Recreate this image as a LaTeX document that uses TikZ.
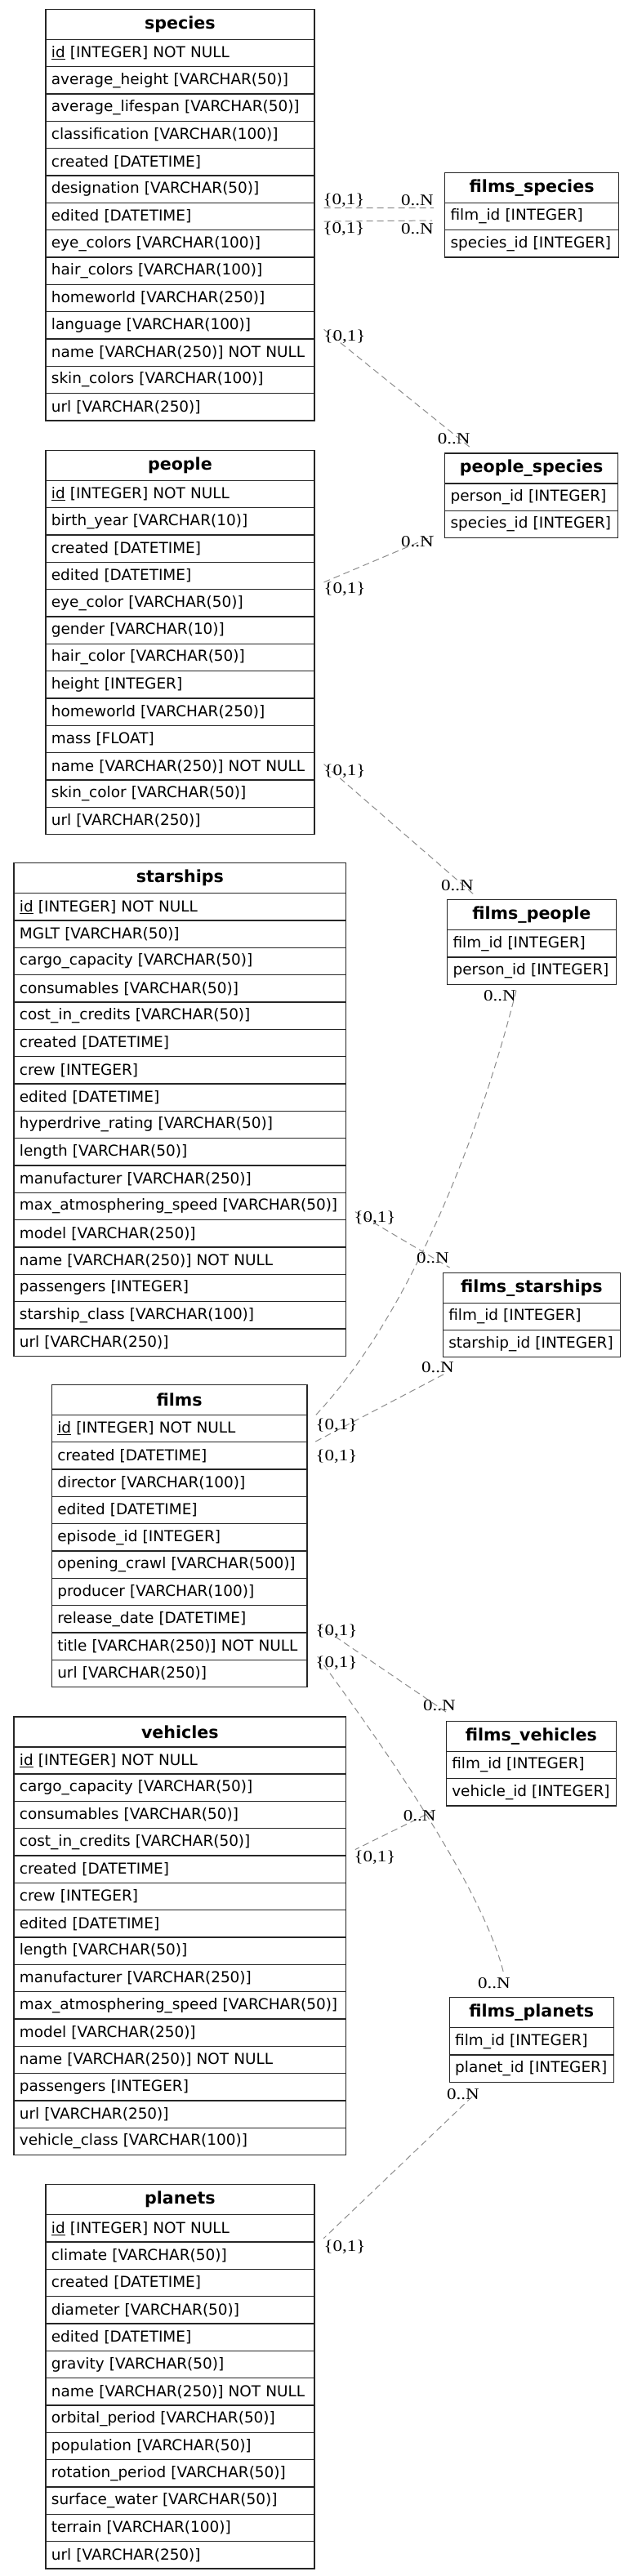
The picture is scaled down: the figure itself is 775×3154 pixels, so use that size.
\documentclass[tikz,border=0pt]{standalone}
\usepackage{fontspec}
\setmainfont{DejaVu Sans}
\newfontfamily\cardfont{Liberation Serif}
\usepackage{tikz}
\tikzset{
    % ER table styles
    thead/.style={draw=black!85, line width=1.2pt, inner sep=0pt, minimum height=37pt, anchor=north west, font=\bfseries\fontsize{20.6}{24}\selectfont},
    trow/.style={draw=black!85, line width=1.2pt, inner xsep=7pt, inner ysep=0pt, minimum height=33.33pt, anchor=north west, align=left, font=\fontsize{18.45}{22}\selectfont},
    % Relation styles
    rel/.style={draw=black!45, line width=1pt, dash pattern=on 8pt off 5pt},
    card/.style={inner sep=0pt, xscale=1.18, font=\cardfont\fontsize{19.5}{22}\selectfont}
}

\begin{document}
\begin{tikzpicture}[x=1pt, y=-1pt]
\path[use as bounding box, fill=white] (0,0) rectangle (775,3154);

% species
\node[thead, minimum width=329pt] (species) at (55.3,10.7) {species};
\foreach \r [count=\i] in {\underline{id} [INTEGER] NOT NULL, average\_height [VARCHAR(50)], average\_lifespan [VARCHAR(50)], classification [VARCHAR(100)], created [DATETIME], designation [VARCHAR(50)], edited [DATETIME], eye\_colors [VARCHAR(100)], hair\_colors [VARCHAR(100)], homeworld [VARCHAR(250)], language [VARCHAR(100)], name [VARCHAR(250)] NOT NULL, skin\_colors [VARCHAR(100)], url [VARCHAR(250)]}
    \node[trow, text width=315pt] (species-\i) at (55.3,{47.7+33.33*(\i-1)}) {\mbox{\r}};

% people
\node[thead, minimum width=329pt] (people) at (55.3,550.7) {people};
\foreach \r [count=\i] in {\underline{id} [INTEGER] NOT NULL, birth\_year [VARCHAR(10)], created [DATETIME], edited [DATETIME], eye\_color [VARCHAR(50)], gender [VARCHAR(10)], hair\_color [VARCHAR(50)], height [INTEGER], homeworld [VARCHAR(250)], mass [FLOAT], name [VARCHAR(250)] NOT NULL, skin\_color [VARCHAR(50)], url [VARCHAR(250)]}
    \node[trow, text width=315pt] (people-\i) at (55.3,{587.7+33.33*(\i-1)}) {\mbox{\r}};

% starships
\node[thead, minimum width=406.9pt] (starships) at (16.3,1056) {starships};
\foreach \r [count=\i] in {\underline{id} [INTEGER] NOT NULL, MGLT [VARCHAR(50)], cargo\_capacity [VARCHAR(50)], consumables [VARCHAR(50)], cost\_in\_credits [VARCHAR(50)], created [DATETIME], crew [INTEGER], edited [DATETIME], hyperdrive\_rating [VARCHAR(50)], length [VARCHAR(50)], manufacturer [VARCHAR(250)], max\_atmosphering\_speed [VARCHAR(50)], model [VARCHAR(250)], name [VARCHAR(250)] NOT NULL, passengers [INTEGER], starship\_class [VARCHAR(100)], url [VARCHAR(250)]}
    \node[trow, text width=392.9pt] (starships-\i) at (16.3,{1093+33.33*(\i-1)}) {\mbox{\r}};

% films
\node[thead, minimum width=312.6pt] (films) at (62.7,1695) {films};
\foreach \r [count=\i] in {\underline{id} [INTEGER] NOT NULL, created [DATETIME], director [VARCHAR(100)], edited [DATETIME], episode\_id [INTEGER], opening\_crawl [VARCHAR(500)], producer [VARCHAR(100)], release\_date [DATETIME], title [VARCHAR(250)] NOT NULL, url [VARCHAR(250)]}
    \node[trow, text width=298.6pt] (films-\i) at (62.7,{1731.7+33.33*(\i-1)}) {\mbox{\r}};

% vehicles
\node[thead, minimum width=406.9pt] (vehicles) at (16.3,2101.4) {vehicles};
\foreach \r [count=\i] in {\underline{id} [INTEGER] NOT NULL, cargo\_capacity [VARCHAR(50)], consumables [VARCHAR(50)], cost\_in\_credits [VARCHAR(50)], created [DATETIME], crew [INTEGER], edited [DATETIME], length [VARCHAR(50)], manufacturer [VARCHAR(250)], max\_atmosphering\_speed [VARCHAR(50)], model [VARCHAR(250)], name [VARCHAR(250)] NOT NULL, passengers [INTEGER], url [VARCHAR(250)], vehicle\_class [VARCHAR(100)]}
    \node[trow, text width=392.9pt] (vehicles-\i) at (16.3,{2138+33.33*(\i-1)}) {\mbox{\r}};

% planets
\node[thead, minimum width=329pt] (planets) at (55.3,2674) {planets};
\foreach \r [count=\i] in {\underline{id} [INTEGER] NOT NULL, climate [VARCHAR(50)], created [DATETIME], diameter [VARCHAR(50)], edited [DATETIME], gravity [VARCHAR(50)], name [VARCHAR(250)] NOT NULL, orbital\_period [VARCHAR(50)], population [VARCHAR(50)], rotation\_period [VARCHAR(50)], surface\_water [VARCHAR(50)], terrain [VARCHAR(100)], url [VARCHAR(250)]}
    \node[trow, text width=315pt] (planets-\i) at (55.3,{2711+33.33*(\i-1)}) {\mbox{\r}};

% Link tables
\node[thead, minimum width=213pt] (films-species) at (544,210.7) {films\_species};
\node[trow, text width=199pt] (films-species-1) at (544,247.7) {film\_id [INTEGER]};
\node[trow, text width=199pt] (films-species-2) at (544,281) {species\_id [INTEGER]};

\node[thead, minimum width=212pt] (people-species) at (544,554.3) {people\_species};
\node[trow, text width=198pt] (people-species-1) at (544,591.3) {person\_id [INTEGER]};
\node[trow, text width=198pt] (people-species-2) at (544,624.6) {species\_id [INTEGER]};

\node[thead, minimum width=206.6pt] (films-people) at (547,1101) {films\_people};
\node[trow, text width=192.6pt] (films-people-1) at (547,1138) {film\_id [INTEGER]};
\node[trow, text width=192.6pt] (films-people-2) at (547,1171.3) {person\_id [INTEGER]};

\node[thead, minimum width=217.3pt] (films-starships) at (541.7,1557.6) {films\_starships};
\node[trow, text width=203.3pt] (films-starships-1) at (541.7,1594.6) {film\_id [INTEGER]};
\node[trow, text width=203.3pt] (films-starships-2) at (541.7,1627.9) {starship\_id [INTEGER]};

\node[thead, minimum width=208pt] (films-vehicles) at (545.7,2106.8) {films\_vehicles};
\node[trow, text width=194pt] (films-vehicles-1) at (545.7,2143.8) {film\_id [INTEGER]};
\node[trow, text width=194pt] (films-vehicles-2) at (545.7,2177.1) {vehicle\_id [INTEGER]};

\node[thead, minimum width=201pt] (films-planets) at (549.6,2445) {films\_planets};
\node[trow, text width=187pt] (films-planets-1) at (549.6,2482) {film\_id [INTEGER]};
\node[trow, text width=187pt] (films-planets-2) at (549.6,2515.3) {planet\_id [INTEGER]};

% Relations
\draw[rel] ([shift={(11,-10.4)}]species-7.east) -- ([shift={(-13,-10.4)}]films-species-1.west);
\draw[rel] ([shift={(11,6.1)}]species-7.east) -- ([shift={(-15,5.1)}]films-species-1.west);
\draw[rel] ([shift={(11,5)}]species-11.east) -- ([shift={(31,-7)}]people-species.north west);
\draw[rel] ([shift={(11,7.9)}]people-4.east) -- ([shift={(-13,-3)}]people-species-2.south west);
\draw[rel] ([shift={(11,-2.7)}]people-11.east) -- ([shift={(33,-6)}]films-people.north west);
\draw[rel] ([shift={(85,6.7)}]films-people-2.south west) .. controls +(-37,149) and +(125,-133) .. ([shift={(9.7,1.3)}]films-1.north east);
\draw[rel] ([shift={(10.4,6.7)}]starships-12.east) -- ([shift={(8.9,-5.6)}]films-starships.north west);
\draw[rel] ([shift={(1.3,20.4)}]films-starships-2.south west) -- ([shift={(9.7,0)}]films-2.north east);
\draw[rel] ([shift={(12.3,-10.4)}]films-8.south east) -- ([shift={(0.3,-10.8)}]films-vehicles.north west);
\draw[rel] ([shift={(12.3,-5)}]films-9.south east) .. controls +(42,58) and +(-27,-117) .. ([shift={(67.4,-27.5)}]films-planets.north west);
\draw[rel] ([shift={(-12.7,4.5)}]films-vehicles-2.south west) -- ([shift={(10.4,9.3)}]vehicles-4.east);
\draw[rel] ([shift={(28.4,17.3)}]films-planets-2.south west) -- ([shift={(10.8,12.3)}]planets-1.east);

% Cardinalities
\node[card] (c1a) at (421,245) {\{0,1\}};
\node[card] (c1b) at (511,245) {0..N};
\node[card] (c2a) at (421,280) {\{0,1\}};
\node[card] (c2b) at (511,280) {0..N};
\node[card] (c3a) at (422,412.7) {\{0,1\}};
\node[card] (c3b) at (555.6,537.3) {0..N};
\node[card] (c4a) at (422,721.7) {\{0,1\}};
\node[card] (c4b) at (511,663.3) {0..N};
\node[card] (c5a) at (422,944) {\{0,1\}};
\node[card] (c5b) at (560,1084) {0..N};
\node[card] (c6a) at (412,1745) {\{0,1\}};
\node[card] (c6b) at (612,1219.6) {0..N};
\node[card] (c7a) at (459,1491) {\{0,1\}};
\node[card] (c7b) at (530,1540) {0..N};
\node[card] (c8a) at (412,1783) {\{0,1\}};
\node[card] (c8b) at (536,1674) {0..N};
\node[card] (c9a) at (412,1997) {\{0,1\}};
\node[card] (c9b) at (538,2088) {0..N};
\node[card] (c10a) at (412,2036) {\{0,1\}};
\node[card] (c10b) at (605,2428) {0..N};
\node[card] (c11a) at (459,2274.6) {\{0,1\}};
\node[card] (c11b) at (513.6,2223) {0..N};
\node[card] (c12a) at (422,2751) {\{0,1\}};
\node[card] (c12b) at (567,2564) {0..N};
\end{tikzpicture}
\end{document}
